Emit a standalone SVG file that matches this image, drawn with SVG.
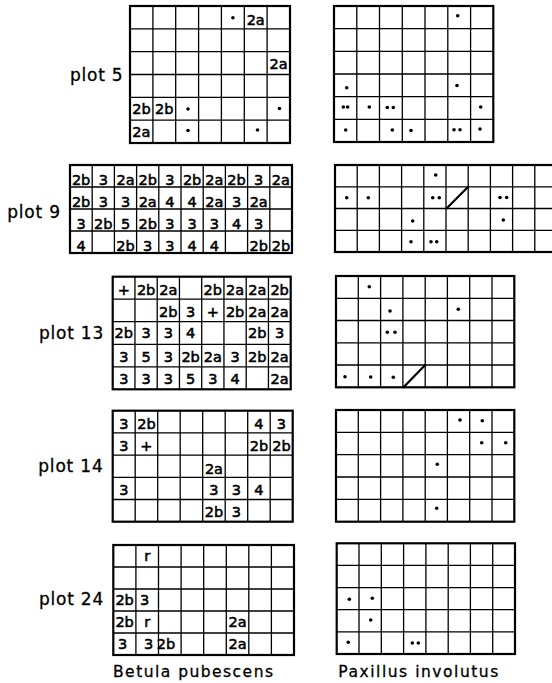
<svg xmlns="http://www.w3.org/2000/svg" width="552" height="683" viewBox="0 0 552 683">
<style>
.bd{fill:none;stroke:#000;stroke-width:2.2}
.gr{fill:none;stroke:#000;stroke-width:1.3}
.sl{fill:none;stroke:#000;stroke-width:2.2;stroke-linecap:round}
.t{font-family:"DejaVu Sans","Liberation Sans",sans-serif;font-size:14.5px;text-anchor:middle;fill:#000;stroke:#000;stroke-width:0.55}
.lb{font-family:"DejaVu Sans","Liberation Sans",sans-serif;font-size:17px;text-anchor:end;letter-spacing:0.8px;fill:#000;stroke:#000;stroke-width:0.3}
.sp{font-family:"DejaVu Sans","Liberation Sans",sans-serif;font-size:15.5px;fill:#000;stroke:#000;stroke-width:0.3}
circle{fill:#000}
</style>
<rect width="552" height="683" fill="#fff"/>

<g id="plot5-betula">
<rect class="bd" x="130" y="6" width="160" height="137"/>
<path class="gr" d="M152.9 6V143M175.7 6V143M198.6 6V143M221.4 6V143M244.3 6V143M267.1 6V143M130 28.8H290M130 51.7H290M130 74.5H290M130 97.3H290M130 120.2H290"/>
<circle cx="232.9" cy="17.8" r="1.8"/>
<text class="t" x="255.7" y="25">2a</text>
<text class="t" x="278.6" y="68.5">2a</text>
<text class="t" x="141.4" y="114">2b</text>
<text class="t" x="164.3" y="114">2b</text>
<circle cx="188" cy="109" r="1.8"/>
<circle cx="279.5" cy="108.5" r="1.8"/>
<text class="t" x="141.4" y="137">2a</text>
<circle cx="188" cy="130.5" r="1.8"/>
<circle cx="257.5" cy="130" r="1.8"/>
</g>

<g id="plot5-paxillus">
<rect class="bd" x="334" y="6" width="159.3" height="136"/>
<path class="gr" d="M356.8 6V142M379.5 6V142M402.3 6V142M425 6V142M447.8 6V142M470.6 6V142M334 28.7H493.3M334 51.3H493.3M334 74H493.3M334 96.7H493.3M334 119.3H493.3"/>
<circle cx="457.7" cy="15.7" r="1.8"/>
<circle cx="346.7" cy="87.7" r="1.8"/>
<circle cx="457" cy="85.5" r="1.8"/>
<circle cx="343.3" cy="107" r="1.8"/>
<circle cx="347.6" cy="107" r="1.8"/>
<circle cx="369.3" cy="107" r="1.8"/>
<circle cx="387.3" cy="107.5" r="1.8"/>
<circle cx="393.3" cy="107.5" r="1.8"/>
<circle cx="480.7" cy="107" r="1.8"/>
<circle cx="345.7" cy="130" r="1.8"/>
<circle cx="392.3" cy="130" r="1.8"/>
<circle cx="411" cy="130.5" r="1.8"/>
<circle cx="454" cy="129.8" r="1.8"/>
<circle cx="460" cy="129.8" r="1.8"/>
<circle cx="480" cy="129" r="1.8"/>
</g>

<g id="plot9-betula">
<rect class="bd" x="70" y="165" width="222" height="88"/>
<path class="gr" d="M92.2 165V253M114.4 165V253M136.6 165V253M158.8 165V253M181 165V253M203.2 165V253M225.4 165V253M247.6 165V253M269.8 165V253M70 187H292M70 209H292M70 231H292"/>
<text class="t" x="81.1" y="185">2b</text><text class="t" x="103.3" y="185">3</text><text class="t" x="125.5" y="185">2a</text><text class="t" x="147.7" y="185">2b</text><text class="t" x="169.9" y="185">3</text><text class="t" x="192.1" y="185">2b</text><text class="t" x="214.3" y="185">2a</text><text class="t" x="236.5" y="185">2b</text><text class="t" x="258.7" y="185">3</text><text class="t" x="280.9" y="185">2a</text>
<text class="t" x="81.1" y="206.5">2b</text><text class="t" x="103.3" y="206.5">3</text><text class="t" x="125.5" y="206.5">3</text><text class="t" x="147.7" y="206.5">2a</text><text class="t" x="169.9" y="206.5">4</text><text class="t" x="192.1" y="206.5">4</text><text class="t" x="214.3" y="206.5">2a</text><text class="t" x="236.5" y="206.5">3</text><text class="t" x="258.7" y="206.5">2a</text>
<text class="t" x="81.1" y="228.5">3</text><text class="t" x="103.3" y="228.5">2b</text><text class="t" x="125.5" y="228.5">5</text><text class="t" x="147.7" y="228.5">2b</text><text class="t" x="169.9" y="228.5">3</text><text class="t" x="192.1" y="228.5">3</text><text class="t" x="214.3" y="228.5">3</text><text class="t" x="236.5" y="228.5">4</text><text class="t" x="258.7" y="228.5">3</text>
<text class="t" x="81.1" y="250.5">4</text><text class="t" x="125.5" y="250.5">2b</text><text class="t" x="147.7" y="250.5">3</text><text class="t" x="169.9" y="250.5">3</text><text class="t" x="192.1" y="250.5">4</text><text class="t" x="214.3" y="250.5">4</text><text class="t" x="258.7" y="250.5">2b</text><text class="t" x="280.9" y="250.5">2b</text>
</g>

<g id="plot9-paxillus">
<rect class="bd" x="335" y="165" width="222" height="87"/>
<path class="gr" d="M357.2 165V252M379.4 165V252M401.6 165V252M423.8 165V252M446 165V252M468.2 165V252M490.4 165V252M512.6 165V252M534.8 165V252M335 186.8H557M335 208.5H557M335 230.3H557"/>
<path class="sl" d="M446.5 208.5L468.2 186.8"/>
<circle cx="435.7" cy="175" r="1.8"/>
<circle cx="346.7" cy="197.7" r="1.8"/>
<circle cx="368.3" cy="197.7" r="1.8"/>
<circle cx="432.7" cy="197.7" r="1.8"/>
<circle cx="439.3" cy="197.7" r="1.8"/>
<circle cx="500" cy="197.5" r="1.8"/>
<circle cx="506.7" cy="197.5" r="1.8"/>
<circle cx="412.7" cy="221" r="1.8"/>
<circle cx="503.3" cy="220" r="1.8"/>
<circle cx="411" cy="241.7" r="1.8"/>
<circle cx="431" cy="241.7" r="1.8"/>
<circle cx="436.7" cy="241.7" r="1.8"/>
</g>

<g id="plot13-betula">
<rect class="bd" x="112.7" y="276.7" width="178" height="112.6"/>
<path class="gr" d="M134.95 276.7V389.3M157.2 276.7V389.3M179.45 276.7V389.3M201.7 276.7V389.3M223.95 276.7V389.3M246.2 276.7V389.3M268.45 276.7V389.3M112.7 299.2H290.7M112.7 321.7H290.7M112.7 344.3H290.7M112.7 366.8H290.7"/>
<text class="t" x="123.8" y="294.5">+</text><text class="t" x="146.1" y="294.5">2b</text><text class="t" x="168.3" y="294.5">2a</text><text class="t" x="212.8" y="294.5">2b</text><text class="t" x="235.1" y="294.5">2a</text><text class="t" x="257.3" y="294.5">2a</text><text class="t" x="279.6" y="294.5">2b</text>
<text class="t" x="168.3" y="317">2b</text><text class="t" x="190.6" y="317">3</text><text class="t" x="212.8" y="317">+</text><text class="t" x="235.1" y="317">2b</text><text class="t" x="257.3" y="317">2a</text><text class="t" x="279.6" y="317">2a</text>
<text class="t" x="123.8" y="338">2b</text><text class="t" x="146.1" y="338">3</text><text class="t" x="168.3" y="338">3</text><text class="t" x="190.6" y="338">4</text><text class="t" x="257.3" y="338">2b</text><text class="t" x="279.6" y="338">3</text>
<text class="t" x="123.8" y="362">3</text><text class="t" x="146.1" y="362">5</text><text class="t" x="168.3" y="362">3</text><text class="t" x="190.6" y="362">2b</text><text class="t" x="212.8" y="362">2a</text><text class="t" x="235.1" y="362">3</text><text class="t" x="257.3" y="362">2b</text><text class="t" x="279.6" y="362">2a</text>
<text class="t" x="123.8" y="384">3</text><text class="t" x="146.1" y="384">3</text><text class="t" x="168.3" y="384">3</text><text class="t" x="190.6" y="384">5</text><text class="t" x="212.8" y="384">3</text><text class="t" x="235.1" y="384">4</text><text class="t" x="279.6" y="384">2a</text>
</g>

<g id="plot13-paxillus">
<rect class="bd" x="336" y="276" width="178.3" height="111.3"/>
<path class="gr" d="M358.3 276V387.3M380.6 276V387.3M402.9 276V387.3M425.2 276V387.3M447.4 276V387.3M469.7 276V387.3M492 276V387.3M336 298.3H514.3M336 320.5H514.3M336 342.8H514.3M336 365H514.3"/>
<path class="sl" d="M403.5 387.3L425.2 365"/>
<circle cx="369.3" cy="286.7" r="1.8"/>
<circle cx="390" cy="311" r="1.8"/>
<circle cx="458.3" cy="309.3" r="1.8"/>
<circle cx="387.3" cy="332.3" r="1.8"/>
<circle cx="395" cy="332.3" r="1.8"/>
<circle cx="345" cy="376.7" r="1.8"/>
<circle cx="370.7" cy="377" r="1.8"/>
<circle cx="393.3" cy="377.3" r="1.8"/>
</g>

<g id="plot14-betula">
<rect class="bd" x="112.7" y="410.7" width="180" height="111"/>
<path class="gr" d="M135.2 410.7V521.7M157.7 410.7V521.7M180.2 410.7V521.7M202.7 410.7V521.7M225.2 410.7V521.7M247.7 410.7V521.7M270.2 410.7V521.7M112.7 432.9H292.7M112.7 455.1H292.7M112.7 477.3H292.7M112.7 499.5H292.7"/>
<text class="t" x="123.95" y="429">3</text><text class="t" x="146.45" y="429">2b</text><text class="t" x="258.95" y="429">4</text><text class="t" x="281.45" y="429">3</text>
<text class="t" x="123.95" y="451">3</text><text class="t" x="146.45" y="451">+</text><text class="t" x="258.95" y="451">2b</text><text class="t" x="281.45" y="451">2b</text>
<text class="t" x="213.95" y="474">2a</text>
<text class="t" x="123.95" y="495">3</text><text class="t" x="213.95" y="495">3</text><text class="t" x="236.45" y="495">3</text><text class="t" x="258.95" y="495">4</text>
<text class="t" x="213.95" y="517">2b</text><text class="t" x="236.45" y="517">3</text>
</g>

<g id="plot14-paxillus">
<rect class="bd" x="336" y="410" width="178.3" height="111.7"/>
<path class="gr" d="M358.3 410V521.7M380.6 410V521.7M402.9 410V521.7M425.2 410V521.7M447.4 410V521.7M469.7 410V521.7M492 410V521.7M336 432.3H514.3M336 454.7H514.3M336 477H514.3M336 499.4H514.3"/>
<circle cx="460" cy="420" r="1.8"/>
<circle cx="482.3" cy="420.7" r="1.8"/>
<circle cx="481.7" cy="442.7" r="1.8"/>
<circle cx="505.7" cy="442.7" r="1.8"/>
<circle cx="437.3" cy="464.3" r="1.8"/>
<circle cx="436.7" cy="508.3" r="1.8"/>
</g>

<g id="plot24-betula">
<rect class="bd" x="113.3" y="545" width="180.7" height="110"/>
<path class="gr" d="M135.9 545V655M158.5 545V655M181.1 545V655M203.7 545V655M226.3 545V655M248.8 545V655M271.4 545V655M113.3 567H294M113.3 589H294M113.3 611H294M113.3 633H294"/>
<text class="t" x="147.2" y="560.5">r</text>
<text class="t" x="124.6" y="605">2b</text><text class="t" x="144.5" y="605">3</text>
<text class="t" x="124.6" y="627">2b</text><text class="t" x="147.2" y="627">r</text><text class="t" x="237.6" y="627">2a</text>
<text class="t" x="122.5" y="649">3</text><text class="t" x="148.5" y="649">3</text><text class="t" x="166" y="649">2b</text><text class="t" x="237.6" y="649">2a</text>
</g>

<g id="plot24-paxillus">
<rect class="bd" x="336.7" y="543.3" width="178.3" height="110.7"/>
<path class="gr" d="M359 543.3V654M381.3 543.3V654M403.6 543.3V654M425.9 543.3V654M448.2 543.3V654M470.4 543.3V654M492.7 543.3V654M336.7 565.4H515M336.7 587.6H515M336.7 609.7H515M336.7 631.9H515"/>
<circle cx="349.3" cy="599.3" r="1.8"/>
<circle cx="372.3" cy="598.3" r="1.8"/>
<circle cx="370.7" cy="620" r="1.8"/>
<circle cx="348.3" cy="642.3" r="1.8"/>
<circle cx="412.3" cy="643" r="1.8"/>
<circle cx="418.3" cy="643" r="1.8"/>
</g>

<g id="labels">
<text class="lb" x="123.5" y="81">plot 5</text>
<text class="lb" x="60.8" y="218">plot 9</text>
<text class="lb" x="104.1" y="338.5">plot 13</text>
<text class="lb" x="103.5" y="472">plot 14</text>
<text class="lb" x="104.1" y="605">plot 24</text>
<text class="sp" x="113" y="677" textLength="160" lengthAdjust="spacing">Betula pubescens</text>
<text class="sp" x="338.3" y="677" textLength="160" lengthAdjust="spacing">Paxillus involutus</text>
</g>
</svg>
